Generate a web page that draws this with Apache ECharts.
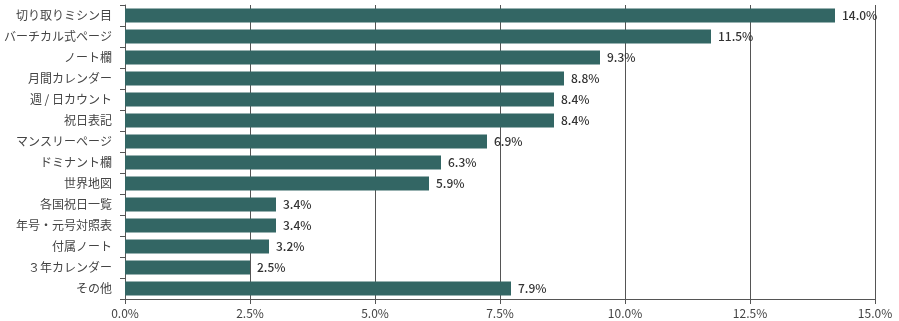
<!DOCTYPE html>
<html><head><meta charset="utf-8">
<script src="https://cdn.jsdelivr.net/npm/echarts@6/dist/echarts.min.js"></script>
<style>html,body{margin:0;padding:0;background:#fff}#c{width:899px;height:321px}</style>
</head><body><div id="c"></div>
<script>
const categories = ['切り取りミシン目','バーチカル式ページ','ノート欄','月間カレンダー','週 / 日カウント','祝日表記','マンスリーページ','ドミナント欄','世界地図','各国祝日一覧','年号・元号対照表','付属ノート','３年カレンダー','その他'];
const barValues = [14.2, 11.72, 9.5, 8.78, 8.58, 8.58, 7.24, 6.32, 6.08, 3.02, 3.02, 2.88, 2.5, 7.72];
const valueLabels = ['14.0%','11.5%','9.3%','8.8%','8.4%','8.4%','6.9%','6.3%','5.9%','3.4%','3.4%','3.2%','2.5%','7.9%'];
const xTicks = { min: 0, max: 15, interval: 2.5 };

const font = '"Noto Sans CJK JP", "Noto Sans", sans-serif';
const chart = echarts.init(document.getElementById('c'));
chart.setOption({
  animation: false,
  grid: { left: 125, right: 24, top: 5, bottom: 22, containLabel: false },
  xAxis: {
    type: 'value', min: xTicks.min, max: xTicks.max, interval: xTicks.interval,
    axisLine: { show: true, lineStyle: { color: '#555' } },
    axisTick: { show: true, length: 5, lineStyle: { color: '#555' } },
    splitLine: { show: true, lineStyle: { color: '#555', width: 1 } },
    axisLabel: { color: '#444', fontSize: 12, fontFamily: font, margin: 8,
      formatter: v => v.toFixed(1) + '%' }
  },
  yAxis: {
    type: 'category', data: categories, inverse: true,
    axisLine: { show: true, lineStyle: { color: '#555' } },
    axisTick: { show: true, length: 5, lineStyle: { color: '#555' } },
    axisLabel: { color: '#444', fontSize: 12, fontFamily: font, margin: 13 }
  },
  series: [{
    type: 'bar', data: barValues, barWidth: 14,
    itemStyle: { color: '#336664' },
    label: { show: true, position: 'right', distance: 7, color: '#333', fontSize: 12,
      fontWeight: 500, fontFamily: font, formatter: p => valueLabels[p.dataIndex] }
  }]
});
</script></body></html>
